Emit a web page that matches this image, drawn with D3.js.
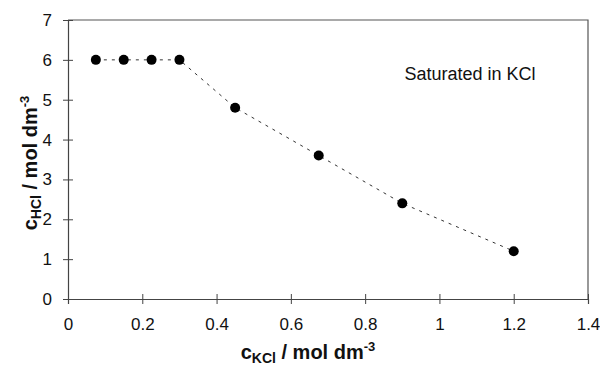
<!DOCTYPE html>
<html>
<head>
<meta charset="utf-8">
<script src="https://d3js.org/d3.v7.min.js"></script>
<style>
  body { margin: 0; background: #fff; }
  text { font-family: "Liberation Sans", Arial, sans-serif; fill: #111; }
  .tick text { font-size: 17px; }
  .axis-title { font-size: 20px; font-weight: bold; }
</style>
</head>
<body>
<div id="chart"></div>
<script>
// c(KCl) and c(HCl), mol dm-3
const cKCl = [0.075, 0.15, 0.225, 0.3, 0.45, 0.675, 0.9, 1.2];
const cHCl = [6.0, 6.0, 6.0, 6.0, 4.8, 3.6, 2.4, 1.2];
const xTicks = [0, 0.2, 0.4, 0.6, 0.8, 1, 1.2, 1.4];
const yTicks = [0, 1, 2, 3, 4, 5, 6, 7];

const width = 600, height = 369;
const margin = {top: 20, right: 12, bottom: 70, left: 68};

const svg = d3.select('#chart').append('svg')
  .attr('width', width)
  .attr('height', height);

const x = d3.scaleLinear().domain([0, 1.4]).range([margin.left, width - margin.right]);
const y = d3.scaleLinear().domain([0, 7]).range([height - margin.bottom, margin.top]);

// frame top + right
svg.append('path')
  .attr('d', `M${x(0)},${y(7)}H${x(1.4)}V${y(0)}`)
  .attr('fill', 'none')
  .attr('stroke', '#555')
  .attr('stroke-width', 1.2);

const xAxis = svg.append('g')
  .attr('transform', `translate(0,${y(0)})`)
  .call(d3.axisBottom(x).tickValues(xTicks).tickFormat(d3.format('')).tickSize(5).tickPadding(14));
xAxis.selectAll('.tick line').attr('y1', -5).attr('y2', 5);

const yAxis = svg.append('g')
  .attr('transform', `translate(${x(0)},0)`)
  .call(d3.axisLeft(y).tickValues(yTicks).tickFormat(d3.format('d')).tickSize(5).tickPadding(11));
yAxis.selectAll('.tick line').attr('x1', -5).attr('x2', 5);

svg.selectAll('.domain').attr('stroke', '#444').attr('stroke-width', 1.2);
svg.selectAll('.tick line').attr('stroke', '#444');

// dashed connecting line
const line = d3.line().x((d, i) => x(cKCl[i])).y(d => y(d));
svg.append('path')
  .datum(cHCl)
  .attr('d', line)
  .attr('fill', 'none')
  .attr('stroke', '#333')
  .attr('stroke-width', 1)
  .attr('stroke-dasharray', '3,5');

svg.selectAll('circle.pt')
  .data(cHCl)
  .enter().append('circle')
  .attr('class', 'pt')
  .attr('cx', (d, i) => x(cKCl[i]))
  .attr('cy', d => y(d))
  .attr('r', 5)
  .attr('fill', '#000');

// annotation
svg.append('text')
  .attr('x', 470)
  .attr('y', 80)
  .attr('text-anchor', 'middle')
  .style('font-size', '18px')
  .text('Saturated in KCl');

// x title
const xt = svg.append('text')
  .attr('class', 'axis-title')
  .attr('x', 308)
  .attr('y', 359)
  .attr('text-anchor', 'middle');
xt.append('tspan').text('c');
xt.append('tspan').attr('dy', 4).style('font-size', '14px').text('KCl');
xt.append('tspan').attr('dy', -4).text(' / mol dm');
xt.append('tspan').attr('dy', -8).style('font-size', '13px').text('-3');

// y title
const yt = svg.append('text')
  .attr('class', 'axis-title')
  .attr('transform', 'translate(37,163) rotate(-90)')
  .attr('text-anchor', 'middle');
yt.append('tspan').text('c');
yt.append('tspan').attr('dy', 4).style('font-size', '14px').text('HCl');
yt.append('tspan').attr('dy', -4).text(' / mol dm');
yt.append('tspan').attr('dy', -8).style('font-size', '13px').text('-3');
</script>
</body>
</html>
